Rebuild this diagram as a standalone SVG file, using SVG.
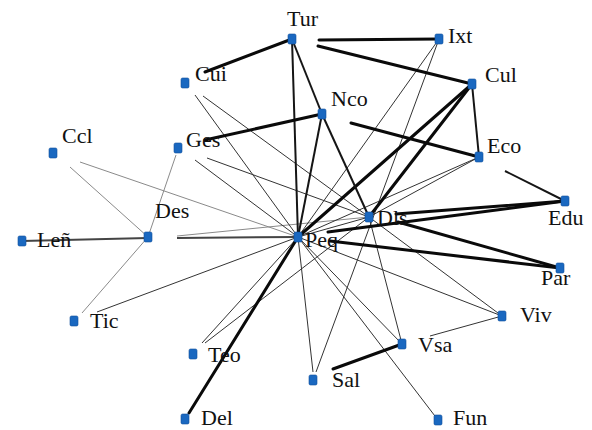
<svg xmlns="http://www.w3.org/2000/svg" width="592" height="430" viewBox="0 0 592 430">
<style>
.n{fill:#1a68c0;stroke:#0f4f9a;stroke-width:0.6}
.t{font-family:"Liberation Serif","Times New Roman",serif;font-size:22px;fill:#111}
.k{stroke:#0a0a0a;stroke-width:3;fill:none;stroke-linecap:round}
.m{stroke:#151515;stroke-width:2;fill:none}
.s{stroke:#333;stroke-width:1;fill:none}
.g{stroke:#8a8a8a;stroke-width:1;fill:none}
.d{stroke:#444;stroke-width:2;fill:none}
</style>
<rect width="592" height="430" fill="#fff"/>
<g id="connectors">
<line class="g" x1="70" y1="167" x2="148" y2="237"/>
<line class="g" x1="80" y1="162" x2="298" y2="237"/>
<line class="g" x1="176" y1="155" x2="148" y2="237"/>
<line class="g" x1="82" y1="313" x2="148" y2="237"/>
<line class="g" x1="177" y1="236" x2="369" y2="217"/>
<line class="d" x1="22" y1="241" x2="148" y2="238"/>
<line class="d" x1="177" y1="238" x2="298" y2="237"/>
<line class="s" x1="195" y1="95" x2="298" y2="237"/>
<line class="s" x1="203" y1="96" x2="369" y2="217"/>
<line class="s" x1="195" y1="160" x2="298" y2="237"/>
<line class="s" x1="207" y1="158" x2="369" y2="217"/>
<line class="s" x1="97" y1="312" x2="298" y2="237"/>
<line class="s" x1="202" y1="343" x2="298" y2="237"/>
<line class="s" x1="205" y1="343" x2="369" y2="217"/>
<line class="s" x1="298" y1="237" x2="313" y2="372"/>
<line class="s" x1="439" y1="39" x2="316" y2="372"/>
<line class="s" x1="439" y1="39" x2="298" y2="237"/>
<line class="s" x1="298" y1="237" x2="402" y2="344"/>
<line class="s" x1="298" y1="237" x2="438" y2="420"/>
<line class="s" x1="369" y1="217" x2="402" y2="344"/>
<line class="s" x1="298" y1="237" x2="502" y2="316"/>
<line class="s" x1="369" y1="217" x2="502" y2="316"/>
<line class="s" x1="502" y1="316" x2="430" y2="336"/>
<line class="s" x1="479" y1="157" x2="369" y2="217"/>
<line class="s" x1="479" y1="157" x2="298" y2="237"/>
<line class="s" x1="298" y1="237" x2="369" y2="217"/>
<line class="k" x1="292" y1="39" x2="205" y2="72"/>
<line class="k" x1="319" y1="40" x2="439" y2="39"/>
<line class="k" x1="318" y1="46" x2="472" y2="84"/>
<line class="m" x1="292" y1="39" x2="322" y2="114"/>
<line class="m" x1="292" y1="39" x2="298" y2="237"/>
<line class="k" x1="205" y1="140" x2="322" y2="114"/>
<line class="k" x1="351" y1="123" x2="479" y2="157"/>
<line class="m" x1="472" y1="84" x2="479" y2="157"/>
<line class="m" x1="505" y1="171" x2="565" y2="201"/>
<line class="k" x1="472" y1="84" x2="298" y2="237"/>
<line class="k" x1="472" y1="84" x2="369" y2="217"/>
<line class="m" x1="322" y1="114" x2="298" y2="237"/>
<line class="m" x1="322" y1="114" x2="369" y2="217"/>
<line class="k" x1="396" y1="214" x2="565" y2="201"/>
<line class="k" x1="328" y1="232" x2="565" y2="201"/>
<line class="k" x1="398" y1="222" x2="560" y2="268"/>
<line class="k" x1="330" y1="241" x2="560" y2="268"/>
<line class="k" x1="189" y1="413" x2="298" y2="237"/>
<line class="k" x1="402" y1="344" x2="333" y2="369"/>
</g>
<g id="Tur"><rect class="n" x="288" y="34" width="8" height="10" rx="1.5"/><text class="t" x="287" y="26">Tur</text></g>
<g id="Ixt"><rect class="n" x="435" y="34" width="8" height="10" rx="1.5"/><text class="t" x="448" y="43">Ixt</text></g>
<g id="Cul"><rect class="n" x="468" y="79" width="8" height="10" rx="1.5"/><text class="t" x="485" y="82">Cul</text></g>
<g id="Cui"><rect class="n" x="181" y="78" width="8" height="10" rx="1.5"/><text class="t" x="195" y="81">Cui</text></g>
<g id="Nco"><rect class="n" x="318" y="109" width="8" height="10" rx="1.5"/><text class="t" x="331" y="106">Nco</text></g>
<g id="Ccl"><rect class="n" x="49" y="148" width="8" height="10" rx="1.5"/><text class="t" x="62" y="143">Ccl</text></g>
<g id="Ges"><rect class="n" x="174" y="143" width="8" height="10" rx="1.5"/><text class="t" x="186" y="147">Ges</text></g>
<g id="Eco"><rect class="n" x="475" y="152" width="8" height="10" rx="1.5"/><text class="t" x="487" y="153">Eco</text></g>
<g id="Des"><rect class="n" x="144" y="232" width="8" height="10" rx="1.5"/><text class="t" x="155" y="218">Des</text></g>
<g id="Len"><rect class="n" x="18" y="236" width="8" height="10" rx="1.5"/><text class="t" x="37" y="247">Leñ</text></g>
<g id="Peq"><rect class="n" x="294" y="232" width="8" height="10" rx="1.5"/><text class="t" x="305" y="247">Peq</text></g>
<g id="Dls"><rect class="n" x="365" y="212" width="8" height="10" rx="1.5"/><text class="t" x="377" y="225">Dls</text></g>
<g id="Edu"><rect class="n" x="561" y="196" width="8" height="10" rx="1.5"/><text class="t" x="548" y="225">Edu</text></g>
<g id="Par"><rect class="n" x="556" y="263" width="8" height="10" rx="1.5"/><text class="t" x="541" y="285">Par</text></g>
<g id="Tic"><rect class="n" x="70" y="316" width="8" height="10" rx="1.5"/><text class="t" x="90" y="328">Tic</text></g>
<g id="Viv"><rect class="n" x="498" y="311" width="8" height="10" rx="1.5"/><text class="t" x="520" y="322">Viv</text></g>
<g id="Teo"><rect class="n" x="189" y="349" width="8" height="10" rx="1.5"/><text class="t" x="208" y="362">Teo</text></g>
<g id="Vsa"><rect class="n" x="398" y="339" width="8" height="10" rx="1.5"/><text class="t" x="418" y="352">Vsa</text></g>
<g id="Sal"><rect class="n" x="309" y="375" width="8" height="10" rx="1.5"/><text class="t" x="332" y="387">Sal</text></g>
<g id="Del"><rect class="n" x="181" y="414" width="8" height="10" rx="1.5"/><text class="t" x="201" y="425">Del</text></g>
<g id="Fun"><rect class="n" x="434" y="415" width="8" height="10" rx="1.5"/><text class="t" x="453" y="425">Fun</text></g>
</svg>
